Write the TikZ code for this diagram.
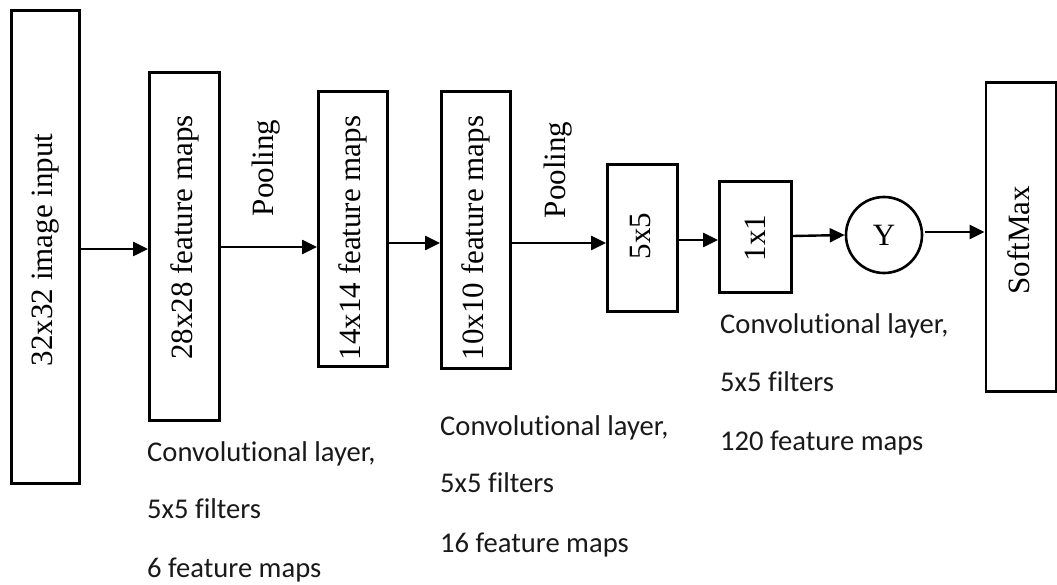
\documentclass[tikz,border=0pt]{standalone}
\usepackage{fontspec}
\setmainfont{Liberation Serif}
\newfontfamily\notefont[Ligatures=NoCommon]{Carlito}
\usetikzlibrary{arrows.meta}

\begin{document}
\begin{tikzpicture}[x=1pt, y=-1pt,
  layerbox/.style={draw, line width=2.9pt, inner sep=0pt, rectangle},
  vtext/.style={rotate=90, font=\fontsize{31}{31}\selectfont, inner sep=0pt},
  note/.style={anchor=base west, font=\notefont\fontsize{28.6}{28.6}\selectfont, inner sep=0pt, text=black!90},
  arr/.style={line width=2.4pt, -{Triangle[length=15pt,width=14pt]}}]

\useasboundingbox (0,0) rectangle (1057,585);

% layer boxes
\node[layerbox, minimum width=68.5pt, minimum height=473.5pt] (b1) at (45.5,247) {};
\node[layerbox, minimum width=70pt, minimum height=348pt] (b2) at (184.5,246.5) {};
\node[layerbox, minimum width=69pt, minimum height=275pt] (b3) at (353,229) {};
\node[layerbox, minimum width=69pt, minimum height=277pt] (b4) at (476,230) {};
\node[layerbox, minimum width=70pt, minimum height=147pt] (b5) at (642.5,238) {};
\node[layerbox, minimum width=72pt, minimum height=111pt] (b6) at (755.5,237) {};
\node[draw, circle, line width=2.6pt, minimum size=76pt, inner sep=0pt,
      font=\fontsize{31}{31}\selectfont] (yc) at (884,235) {Y};
\node[layerbox, minimum width=70pt, minimum height=309pt] (b8) at (1021,237) {};

% rotated labels
\node[vtext] (t1) at (45.5,250) {32x32 image input};
\node[vtext] (t2) at (184.5,237.5) {28x28 feature maps};
\node[vtext] (t3) at (353,238) {14x14 feature maps};
\node[vtext] (t4) at (476,238) {10x10 feature maps};
\node[vtext] (t5) at (640,236) {5x5};
\node[vtext] (t6) at (755.5,238) {1x1};
\node[vtext] (t8) at (1019,240) {SoftMax};
\node[vtext] (p1) at (266,168) {Pooling};
\node[vtext] (p2) at (558,170) {Pooling};

% rows of the connectors
\coordinate (r1) at (0,249);
\coordinate (r2) at (0,247);
\coordinate (r3) at (0,243);
\coordinate (r4) at (0,243);
\coordinate (r5) at (0,240);
\coordinate (r6) at (0,236);
\coordinate (r7) at (0,232);

\draw[arr] (b1.east |- r1) -- (b2.west |- r1);
\draw[arr] (b2.east |- r2) -- (b3.west |- r2);
\draw[arr] (b3.east |- r3) -- (b4.west |- r3);
\draw[arr] (b4.east |- r4) -- (b5.west |- r4);
\draw[arr] (b5.east |- r5) -- (b6.west |- r5);
\draw[arr] (b6.east |- r6) -- (yc.west);
\draw[arr, shorten <=2pt] (yc.east |- r7) -- (b8.west |- r7);

% layer notes
\node[note] (n1a) at (147,461) {Convolutional layer,};
\node[note] (n1b) at (147,518) {5x5 filters};
\node[note] (n1c) at (147,577) {6 feature maps};

\node[note] (n2a) at (440,435) {Convolutional layer,};
\node[note] (n2b) at (440,492) {5x5 filters};
\node[note] (n2c) at (440,552) {16 feature maps};

\node[note] (n3a) at (720,333) {Convolutional layer,};
\node[note] (n3b) at (720,391) {5x5 filters};
\node[note] (n3c) at (720,450) {120 feature maps};

\end{tikzpicture}
\end{document}
